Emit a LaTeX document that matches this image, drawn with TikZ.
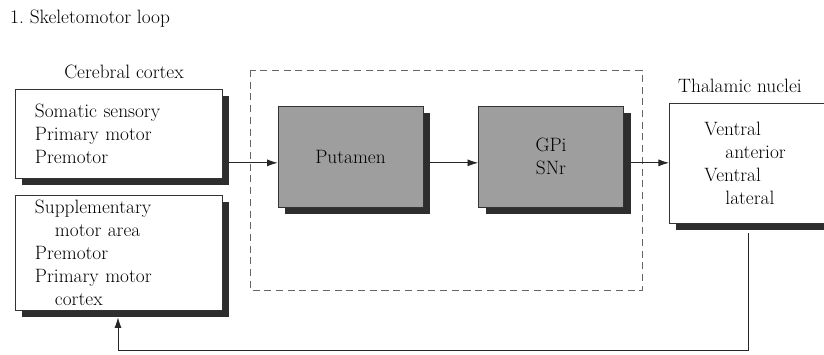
\documentclass[tikz,border=0pt]{standalone}
\usepackage{xcolor}
\usepackage{tikz}
\usetikzlibrary{shadows,arrows.meta}

\newcommand{\diagfont}{\fontsize{16.5}{19.6}\selectfont}
\tikzset{
  boxshadow/.style={drop shadow={shadow xshift=0.21cm, shadow yshift=-0.21cm,
      opacity=1, fill=black!82}},
  ctxbox/.style={boxshadow, draw=black!80, fill=white, line width=0.7pt,
      inner xsep=0.6cm, inner ysep=0pt, text width=5.01cm, align=left,
      minimum width=6.21cm, font=\diagfont},
  nucbox/.style={boxshadow, draw=black!80, fill=black!38, line width=0.7pt,
      minimum width=4.35cm, minimum height=3.03cm, align=center,
      font=\diagfont},
  lbl/.style={font=\diagfont, inner sep=0pt},
  conn/.style={-{Latex[length=9pt,width=6pt]}, black!85, line width=0.7pt}
}

\begin{document}
\begin{tikzpicture}[x=0.03cm, y=-0.03cm]
  \clip (0,0) rectangle (824,354);
  \fill[white] (0,0) rectangle (824,354);

  % ── Titles ──────────────────────────────────────
  \node[lbl, anchor=west] (title) at (10,19) {1.\ Skeletomotor loop};
  \node[lbl] (ctxlbl) at (124,72) {Cerebral cortex};
  \node[lbl, anchor=west] (thallbl) at (678,86) {Thalamic nuclei};

  % ── Cortical input boxes ────────────────────────
  \node[ctxbox, minimum height=2.67cm] (ctxA) at (118.5,133.5)
    {Somatic sensory\\Primary motor\\Premotor};
  \node[ctxbox, minimum height=3.45cm] (ctxB) at (118.5,252.5)
    {Supplementary\\\hspace*{0.6cm}motor area\\Premotor\\Primary motor\\\hspace*{0.6cm}cortex};

  % ── Basal ganglia (dashed frame) ────────────────
  \draw[black!60, line width=0.8pt, dash pattern=on 6pt off 4pt]
    (250,70) rectangle (642,290);
  \node[nucbox] (put) at (350.5,156.5) {Putamen};
  \node[nucbox] (gpi) at (551,156.5) {GPi\\SNr};

  % ── Thalamus ────────────────────────────────────
  \node[ctxbox, anchor=north west, minimum height=3.6cm,
        inner xsep=1.02cm, text width=4.2cm, minimum width=6.3cm]
    (thal) at (669,103)
    {Ventral\\\hspace*{0.63cm}anterior\\Ventral\\\hspace*{0.63cm}lateral};

  % ── Connections ─────────────────────────────────
  \draw[conn] ([xshift=0.21cm,yshift=-0.19cm]ctxA.east |- put.west)
    -- ([yshift=-0.19cm]put.west);
  \draw[conn] ([xshift=0.21cm,yshift=-0.19cm]put.east)
    -- ([yshift=-0.19cm]gpi.west);
  \draw[conn] ([xshift=0.21cm,yshift=-0.19cm]gpi.east)
    -- ([yshift=-0.19cm]thal.west |- gpi.east);

  % feedback to cortex
  \coordinate (loopR) at (748,350);
  \coordinate (loopL) at (118,350);
  \draw[conn] ([yshift=-0.27cm]thal.south -| loopR) -- (loopR) -- (loopL)
    -- ([yshift=-0.21cm]ctxB.south -| loopL);
\end{tikzpicture}
\end{document}
